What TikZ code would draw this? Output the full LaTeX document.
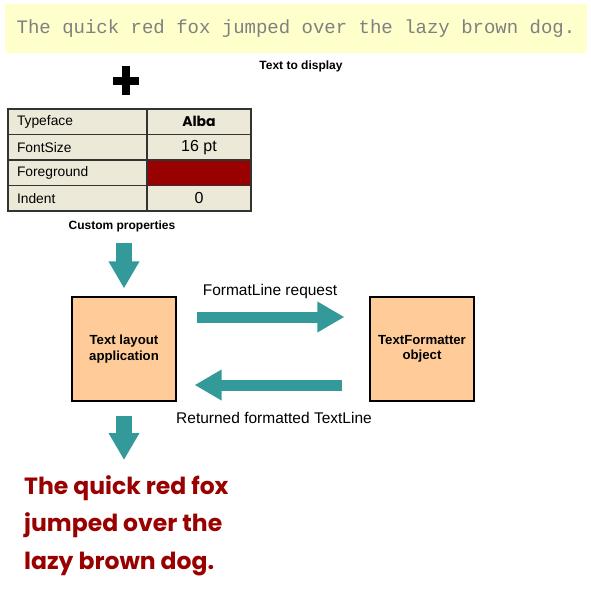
\documentclass[tikz,border=0pt]{standalone}
\usepackage{fontspec}
\setmainfont{Liberation Sans}
\newfontfamily\samplefont{Liberation Mono}
\newfontfamily\albafont{Poppins}
\usetikzlibrary{arrows.meta}
\definecolor{paleyellow}{HTML}{FFFFCC}
\definecolor{tealarrow}{HTML}{339999}
\definecolor{peach}{HTML}{FFCC99}
\definecolor{beige}{HTML}{ECE9D8}
\definecolor{darkred}{HTML}{990000}
\definecolor{samplegray}{HTML}{808080}

\begin{document}
\begin{tikzpicture}[x=1pt,y=-1pt,
    cell/.style={draw=black!80,line width=1.2pt,fill=beige,minimum height=25.5pt,inner sep=0pt},
    keycell/.style={cell,minimum width=139pt,text width=121pt,align=left,font=\fontsize{13.8}{15}\selectfont},
    valcell/.style={cell,minimum width=104pt,align=center,font=\fontsize{16}{17}\selectfont},
    box/.style={draw=black,line width=1.2pt,fill=peach,minimum width=104pt,minimum height=104pt,align=center,font=\fontsize{13.2}{15.5}\bfseries\selectfont},
    caption/.style={font=\fontsize{12}{14}\bfseries\selectfont,inner sep=0pt},
    label/.style={font=\fontsize{15.5}{17}\selectfont},
    blockarrow/.style={tealarrow,line width=11pt,-{Triangle[width=29pt,length=27pt]}},
    downarrow/.style={blockarrow,line width=15.5pt}]
    \useasboundingbox (0,0) rectangle (591,592);
    \node[fill=paleyellow,minimum width=582pt,minimum height=49pt,inner sep=0pt] (sample) at (296,28.5)
      {\samplefont\fontsize{19}{21}\selectfont\color{samplegray}The quick red fox jumped over the lazy brown dog.};
    \node[caption] (display) at (301,66) {Text to display};
    \draw[line width=8.3pt] (113,81) -- (139,81) (126,66) -- (126,95);

    \node[keycell] (k1) at (77.5,121.75) {Typeface};
    \node[valcell] (v1) at (199,121.75) {\albafont\bfseries\fontsize{14}{15}\selectfont Alba};
    \node[keycell] (k2) at (77.5,147.25) {FontSize};
    \node[valcell] (v2) at (199,147.25) {16 pt};
    \node[keycell] (k3) at (77.5,172.75) {Foreground};
    \node[valcell,fill=darkred] (v3) at (199,172.75) {};
    \node[keycell] (k4) at (77.5,198.25) {Indent};
    \node[valcell] (v4) at (199,198.25) {0};
    \node[caption] (props) at (122,226) {Custom properties};

    \node[box] (app) at (124,349) {Text layout\\application};
    \node[box] (fmt) at (422,349) {TextFormatter\\object};
    \node[label] (req) at (270,291) {FormatLine request};
    \node[label] (ret) at (274,418) {Returned formatted TextLine};

    \node[anchor=north west,align=left,inner sep=0pt,text=darkred,
      font=\albafont\bfseries\fontsize{23.5}{37.5}\selectfont] (output) at (24,475)
      {The quick red fox\\jumped over the\\lazy brown dog.};

    \draw[downarrow,shorten <=11pt,shorten >=8pt] (app.north |- props.south) -- (app.north);
    \draw[blockarrow,shorten <=20pt,shorten >=25pt] ([yshift=32pt]app.east) -- ([yshift=32pt]fmt.west);
    \draw[blockarrow,shorten <=27pt,shorten >=18pt] ([yshift=-36pt]fmt.west) -- ([yshift=-36pt]app.east);
    \draw[downarrow,shorten <=14pt,shorten >=15pt] (app.south) -- (app.south |- output.north);
\end{tikzpicture}
\end{document}
